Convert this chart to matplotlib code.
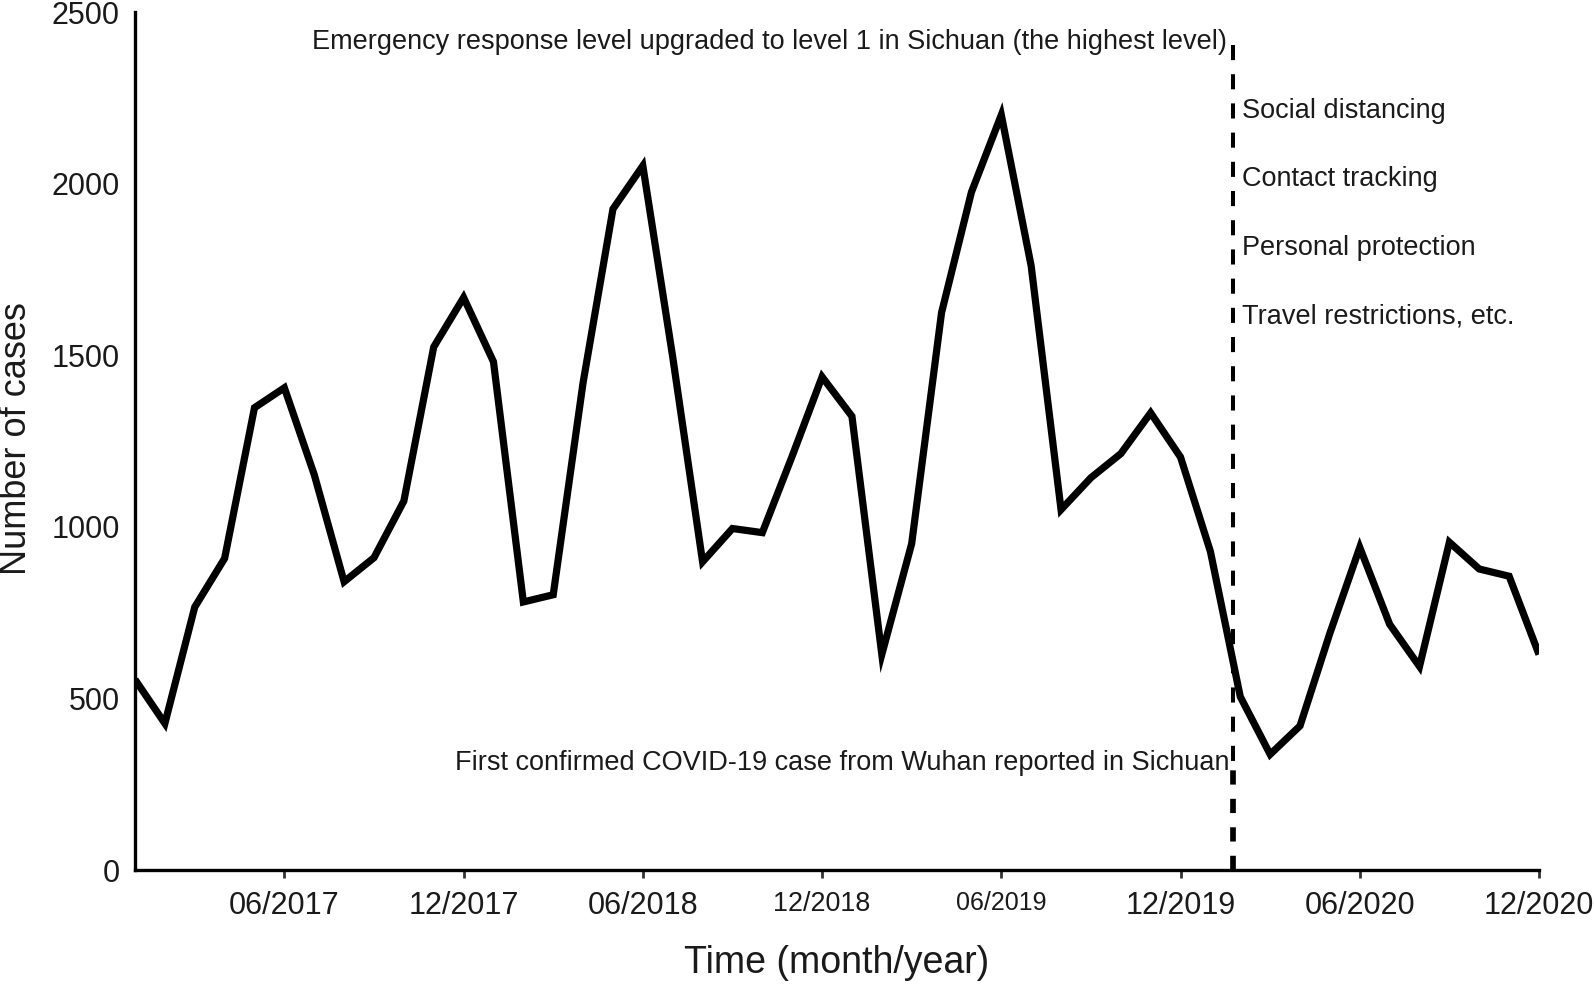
import matplotlib
matplotlib.use("Agg")
import matplotlib.pyplot as plt
import numpy as np

# ---- data ----
months = [f"{m:02d}/{y}" for y in range(2017, 2021) for m in range(1, 13)]
cases = [555, 427, 766, 908, 1347, 1405, 1152, 840, 910, 1075, 1524, 1668,
         1481, 781, 802, 1420, 1926, 2052, 1495, 898, 995, 983, 1206, 1437,
         1322, 628, 951, 1624, 1975, 2200, 1760, 1050, 1143, 1213, 1332, 1203,
         928, 505, 337, 420, 690, 940, 716, 593, 955, 877, 856, 628]
tick_labels = ["06/2017", "12/2017", "06/2018", "12/2018", "06/2019",
               "12/2019", "06/2020", "12/2020"]
tick_sizes = [22, 22, 22, 19.4, 18, 22, 22, 22]
y_ticks = [0, 500, 1000, 1500, 2000, 2500]
event_month = 36.77  # ~late January 2020
event_lower = [0, 290]
event_upper = [2405, 300]
measures = ["Social distancing", "Contact tracking", "Personal protection",
            "Travel restrictions, etc."]
measure_y = [2212, 2012, 1812, 1612]
txt_top = "Emergency response level upgraded to level 1 in Sichuan (the highest level)"
txt_bottom = "First confirmed COVID-19 case from Wuhan reported in Sichuan"

plt.rcParams['font.family'] = ['Liberation Sans', 'DejaVu Sans']
TXT = '#1a1a1a'

fig = plt.figure(figsize=(15.94, 9.84), dpi=100)
ax = fig.add_axes([135/1594, (984-870)/984, (1539-135)/1594, (870-12)/984])

x = np.arange(len(cases))
ax.plot(x, cases, color='black', lw=5.2, solid_capstyle='butt', solid_joinstyle='miter', zorder=3)

ax.plot([event_month, event_month], event_upper, color='black', lw=2.9,
        linestyle=(0, (3.75, 3.5)), zorder=2)
ax.plot([event_month, event_month], event_lower, color='black', lw=4.1,
        linestyle=(0, (2.5, 2.5)), zorder=2)

ax.set_xlim(0, 47)
ax.set_ylim(0, 2500)

tick_pos = [months.index(t) for t in tick_labels]
ax.set_xticks(tick_pos)
ax.set_xticklabels(tick_labels)
for lab, s in zip(ax.get_xticklabels(), tick_sizes):
    lab.set_fontsize(s)
    lab.set_color(TXT)
ax.set_yticks(y_ticks)
ax.set_yticklabels([str(v) for v in y_ticks], fontsize=22, color=TXT)

ax.tick_params(axis='x', direction='out', length=6, width=2, pad=9, color='#333333')
ax.tick_params(axis='y', length=0, pad=11)

for s in ['top', 'right']:
    ax.spines[s].set_visible(False)
for s in ['left', 'bottom']:
    ax.spines[s].set_linewidth(2.4)
    ax.spines[s].set_color('black')

fig.text(837/1594, (984-973)/984, "Time (month/year)", fontsize=27,
         ha='center', va='baseline', color=TXT)
fig.text(17/1594, (984-439)/984, "Number of cases", fontsize=26,
         ha='center', va='center', rotation=90, color=TXT)

ax.text(36.55, 2413, txt_top, fontsize=19.5, ha='right', va='center', color=TXT)
ax.text(36.65, 312, txt_bottom, fontsize=19.5, ha='right', va='center', color=TXT)
for t, yv in zip(measures, measure_y):
    ax.text(37.06, yv, t, fontsize=19.5, ha='left', va='center', color=TXT)

fig.savefig("out.png", dpi=100)
